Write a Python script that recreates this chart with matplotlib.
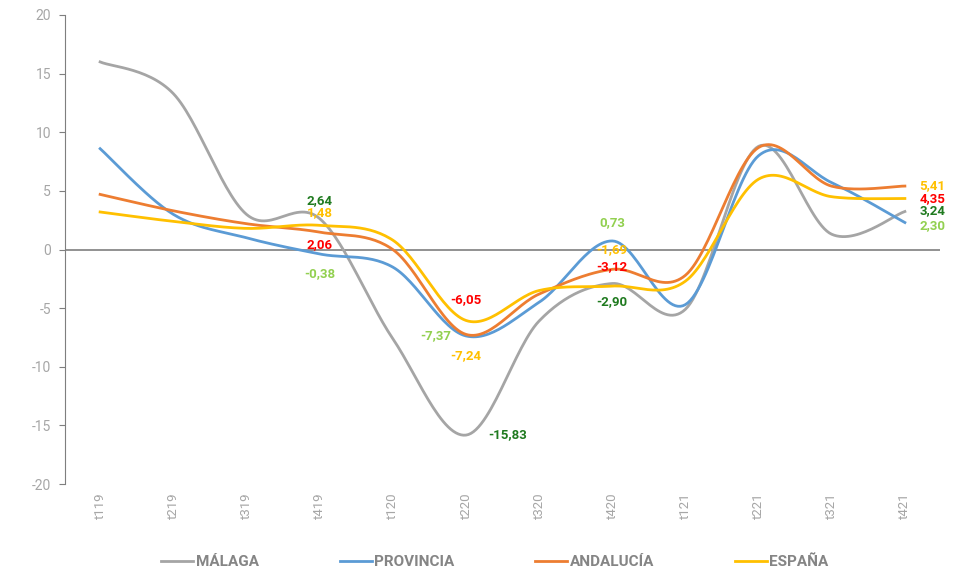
import numpy as np
import matplotlib.pyplot as plt

plt.rcParams['font.family'] = ['Roboto', 'DejaVu Sans']
plt.rcParams['axes.unicode_minus'] = False

trimestres = ['t119', 't219', 't319', 't419', 't120', 't220', 't320', 't420', 't121', 't221', 't321', 't421']
malaga = [16.0, 13.3, 3.0, 2.64, -7.6, -15.83, -6.1, -2.90, -5.1, 8.8, 1.3, 3.24]
provincia = [8.6, 3.0, 1.0, -0.38, -1.5, -7.37, -4.5, 0.73, -4.7, 8.0, 5.7, 2.30]
andalucia = [4.7, 3.3, 2.2, 1.48, 0.0, -7.24, -3.8, -1.69, -2.2, 8.7, 5.4, 5.41]
espana = [3.2, 2.4, 1.8, 2.06, 0.8, -6.05, -3.5, -3.12, -2.7, 6.0, 4.5, 4.35]

nombres = ['MÁLAGA', 'PROVINCIA', 'ANDALUCÍA', 'ESPAÑA']
series = [malaga, provincia, andalucia, espana]
colores = ['#a5a5a5', '#5b9bd5', '#ed7d31', '#ffc000']
col_etiq = ['#1f7a1f', '#92d050', '#ffc000', '#ff0000']

# indices donde se muestran etiquetas y su posicion (dx, dy en puntos)
idx_etiq = [3, 5, 7, 11]
offsets = {
    0: {3: (0, 13), 5: (30, 0), 7: (0, -13), 11: (20, 1)},
    1: {3: (0, -14), 5: (-22, 0), 7: (0, 13), 11: (20, -2)},
    2: {3: (0, 14), 5: (0, -15), 7: (0, 14), 11: (20, 0)},
    3: {3: (0, -14), 5: (0, 15), 7: (0, 14), 11: (20, 0)},
}


def suavizar(y, n=30):
    # curva tipo Excel (Catmull-Rom como Bezier cubica)
    y = np.asarray(y, float)
    x = np.arange(len(y), dtype=float)
    px = np.concatenate([[x[0]], x, [x[-1]]])
    py = np.concatenate([[y[0]], y, [y[-1]]])
    xs, ys = [], []
    t = np.linspace(0, 1, n)
    for i in range(len(y) - 1):
        p0 = np.array([px[i + 1], py[i + 1]])
        p3 = np.array([px[i + 2], py[i + 2]])
        c1 = p0 + (np.array([px[i + 2], py[i + 2]]) - np.array([px[i], py[i]])) / 6
        c2 = p3 - (np.array([px[i + 3], py[i + 3]]) - np.array([px[i + 1], py[i + 1]])) / 6
        b = ((1 - t) ** 3)[:, None] * p0 + (3 * (1 - t) ** 2 * t)[:, None] * c1 \
            + (3 * (1 - t) * t ** 2)[:, None] * c2 + (t ** 3)[:, None] * p3
        xs.append(b[:, 0])
        ys.append(b[:, 1])
    return np.concatenate(xs), np.concatenate(ys)


fig = plt.figure(figsize=(9.54, 5.73), dpi=100)
ax = fig.add_axes([65 / 954, 1 - 484 / 573, 875 / 954, 469 / 573])

ax.axhline(0, color='#7f7f7f', lw=1.2, zorder=1)

for k, (nom, s, c) in enumerate(zip(nombres, series, colores)):
    xs, ys = suavizar(s)
    ax.plot(xs, ys, color=c, lw=2, label=nom, zorder=2 + k)
    for i in idx_etiq:
        dx, dy = offsets[k][i]
        ax.annotate(f'{s[i]:.2f}'.replace('.', ','), (i, s[i]), xytext=(dx, dy),
                    textcoords='offset points', ha='center', va='center',
                    color=col_etiq[k], fontsize=9.5, fontweight='bold', zorder=10)

ax.set_xlim(-0.48, 11.48)
ax.set_ylim(-20, 20)
ax.set_yticks(range(-20, 21, 5))
ax.set_xticks(range(len(trimestres)))
ax.set_xticklabels(trimestres, rotation=90)
ax.tick_params(axis='x', length=0, pad=6, labelcolor='#a6a6a6', labelsize=9.5)
ax.tick_params(axis='y', length=4, color='#7f7f7f', labelcolor='#a6a6a6', labelsize=10, pad=6)
for lado in ['top', 'right', 'bottom']:
    ax.spines[lado].set_visible(False)
ax.spines['left'].set_color('#7f7f7f')

leg = fig.legend(loc='center', bbox_to_anchor=(495 / 954, 1 - 562 / 573), ncol=4,
                 frameon=False, handlelength=2.1, handletextpad=0.15, columnspacing=5.3,
                 prop={'size': 11, 'weight': 'bold'})
for txt in leg.get_texts():
    txt.set_color('#858585')

fig.savefig('out.png', dpi=100)
